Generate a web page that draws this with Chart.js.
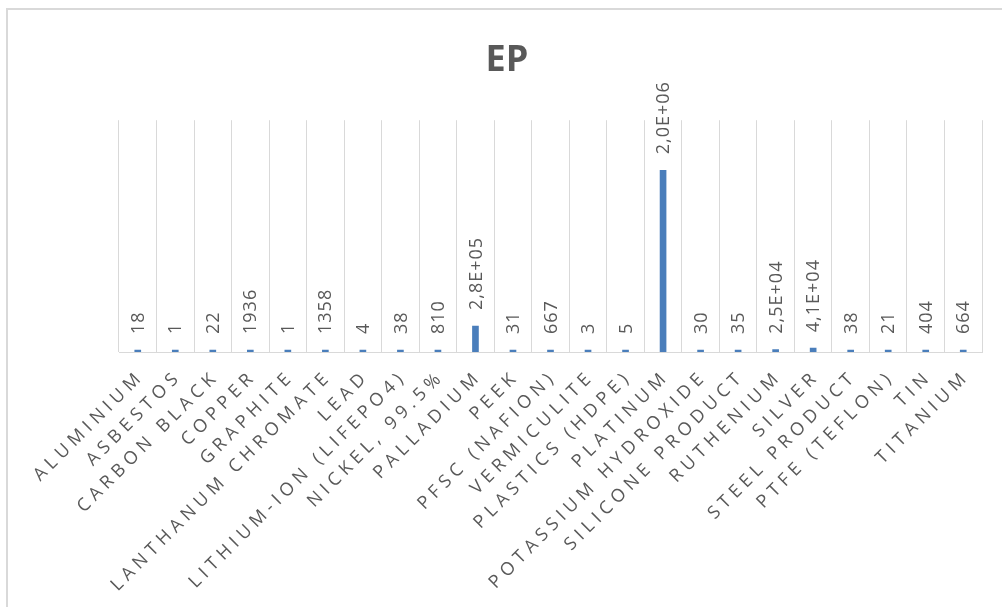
<!DOCTYPE html>
<html>
<head>
<meta charset="utf-8">
<script src="https://cdn.jsdelivr.net/npm/chart.js@4.4.1/dist/chart.umd.min.js"></script>
<style>
  html, body { margin: 0; padding: 0; background: #fff; overflow: hidden; }
  #frame {
    position: absolute; left: 6px; top: 8px;
    border-left: 2px solid #d9d9d9; border-top: 2px solid #d9d9d9;
    width: 998px; height: 600px;
  }
</style>
</head>
<body>
<div id="frame"><canvas id="epChart"></canvas></div>
<script>
// Chart data
const categories = [
    'ALUMINIUM', 'ASBESTOS', 'CARBON BLACK', 'COPPER', 'GRAPHITE',
    'LANTHANUM CHROMATE', 'LEAD', 'LITHIUM-ION (LIFEPO4)', 'NICKEL, 99.5%',
    'PALLADIUM', 'PEEK', 'PFSC (NAFION)', 'VERMICULITE', 'PLASTICS (HDPE)',
    'PLATINUM', 'POTASSIUM HYDROXIDE', 'SILICONE PRODUCT', 'RUTHENIUM',
    'SILVER', 'STEEL PRODUCT', 'PTFE (TEFLON)', 'TIN', 'TITANIUM'
];
const epValues = [
    18, 1, 22, 1936, 1,
    1358, 4, 38, 810,
    280000, 31, 667, 3, 5,
    1960000, 30, 35, 25000,
    41000, 38, 21, 404, 664
];
const yMax = 2500000;

const textColor = '#595959';
const gridColor = '#d9d9d9';
const fontFamily = "'Open Sans', 'Noto Sans', sans-serif";

// Excel style number text: 2,8E+05
function formatValue(v) {
    if (v < 10000) return String(Math.round(v));
    const [m, e] = v.toExponential(1).split('e');
    const exp = e.replace('+', '').padStart(2, '0');
    return m.replace('.', ',') + 'E+' + exp;
}

// Value labels above each bar, rotated
const valueLabels = {
    id: 'valueLabels',
    afterDatasetsDraw(chart) {
        const ctx = chart.ctx;
        const meta = chart.getDatasetMeta(0);
        ctx.save();
        ctx.font = `18px ${fontFamily}`;
        ctx.letterSpacing = '1px';
        ctx.fillStyle = textColor;
        ctx.textAlign = 'left';
        ctx.textBaseline = 'middle';
        meta.data.forEach((bar, i) => {
            ctx.save();
            ctx.translate(bar.x + 1, bar.y - 16);
            ctx.rotate(-Math.PI / 2);
            ctx.fillText(formatValue(epValues[i]), 0, 0);
            ctx.restore();
        });
        ctx.restore();
    }
};

// Category labels at 45 degrees with wide letter spacing
const categoryLabels = {
    id: 'categoryLabels',
    afterDraw(chart) {
        const ctx = chart.ctx;
        const xScale = chart.scales.x;
        const spacing = 5;
        ctx.save();
        ctx.font = `18px ${fontFamily}`;
        ctx.letterSpacing = spacing + 'px';
        ctx.fillStyle = textColor;
        ctx.textAlign = 'right';
        ctx.textBaseline = 'middle';
        categories.forEach((label, i) => {
            const x = xScale.getPixelForValue(i);
            ctx.save();
            ctx.translate(x, chart.chartArea.bottom + 25);
            ctx.rotate(-Math.PI / 4);
            ctx.fillText(label, spacing, 0);
            ctx.restore();
        });
        ctx.restore();
    }
};

new Chart(document.getElementById('epChart'), {
    type: 'bar',
    data: {
        labels: categories,
        datasets: [{
            data: epValues,
            backgroundColor: '#4a7ebb',
            barThickness: 6,
            minBarLength: 2
        }]
    },
    options: {
        responsive: true,
        maintainAspectRatio: false,
        animation: false,
        layout: { padding: { left: 24, right: 24, top: 0, bottom: 0 } },
        scales: {
            x: {
                grid: { color: gridColor, offset: true, drawTicks: false },
                border: { color: gridColor, width: 1 },
                ticks: { display: false },
                afterFit: (scale) => {
                    scale.height = 258;
                    scale.paddingLeft = 0;
                    scale.paddingRight = 0;
                }
            },
            y: {
                min: 0,
                max: yMax,
                grid: { display: false },
                border: { display: false },
                ticks: { display: false },
                afterFit: (scale) => { scale.width = 87; }
            }
        },
        plugins: {
            legend: { display: false },
            tooltip: { enabled: false },
            title: {
                display: true,
                text: 'EP',
                color: textColor,
                font: { family: fontFamily, size: 36, weight: 'bold' },
                padding: { top: 29, bottom: 38 }
            }
        }
    },
    plugins: [valueLabels, categoryLabels]
});
</script>
</body>
</html>
